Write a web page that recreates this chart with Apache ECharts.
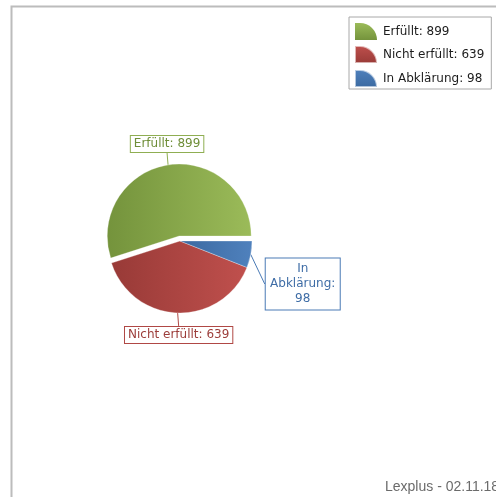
<!DOCTYPE html>
<html>
<head>
<meta charset="utf-8">
<script src="https://cdn.jsdelivr.net/npm/echarts@6/dist/echarts.min.js"></script>
<style>html,body{margin:0;padding:0;background:#fff}#c{width:496px;height:497px}</style>
</head>
<body>
<div id="c"></div>
<script>
const categories = ['Erfüllt', 'Nicht erfüllt', 'In Abklärung'];
const values = [899, 639, 98];
const footerText = 'Lexplus - 02.11.18';

const sliceDark  = ['#74933c', '#983a37', '#3b69a0'];
const sliceLight = ['#9bbb59', '#c0504d', '#4f81bd'];
const labelText  = ['#6f8e39', '#9c3d3a', '#3f6da6'];
const labelBorder= ['#8fae52', '#b04845', '#4a7ab5'];

const FONT = 'DejaVu Sans';
const CX = 180, CY = 241, R = 72, EXPLODE = 5;
const EXPLODED = 0; // index of exploded slice

function grad(i) {
  return new echarts.graphic.LinearGradient(0, 0, 1, 0, [
    { offset: 0, color: sliceDark[i] },
    { offset: 1, color: sliceLight[i] }
  ]);
}
function iconGrad(i) {
  return new echarts.graphic.LinearGradient(0, 0, 0, 1, [
    { offset: 0, color: sliceLight[i] },
    { offset: 1, color: sliceDark[i] }
  ]);
}

// mid-angle of the exploded slice (counter-clockwise from 3 o'clock)
const total = values.reduce((a, b) => a + b, 0);
let before = 0;
for (let i = 0; i < EXPLODED; i++) before += values[i];
const midRad = ((before + values[EXPLODED] / 2) / total) * 2 * Math.PI;
const explodedCenter = [CX + EXPLODE * Math.cos(midRad), CY - EXPLODE * Math.sin(midRad)];

function makeData(showSet) {
  return categories.map((name, i) => {
    const show = showSet(i);
    const item = { name: name, value: values[i] };
    if (!show) {
      item.itemStyle = { color: 'rgba(0,0,0,0)', borderWidth: 0 };
      item.label = { show: false };
      item.labelLine = { show: false };
    } else {
      item.itemStyle = { color: grad(i) };
      item.label = { color: labelText[i], borderColor: labelBorder[i] };
      item.labelLine = { lineStyle: { color: labelBorder[i] } };
      if (i === 2) {
        item.label.formatter = function (p) { return p.name.replace(' ', '\n') + ':\n' + p.value; };
        item.label.width = 68;
        item.label.align = 'center';
        item.label.lineHeight = 15;
        item.label.padding = [3, 3, 3, 3];
      }
    }
    return item;
  });
}

function labelLayout(p) {
  const pts = p.labelLinePoints;
  if (!pts) return {};
  const a = pts[0];
  if (p.dataIndex === 0) {
    return { x: a[0] - 1, y: a[1] - 13, align: 'center', verticalAlign: 'bottom' };
  } else if (p.dataIndex === 1) {
    return { x: a[0] + 1, y: a[1] + 14, align: 'center', verticalAlign: 'top' };
  } else {
    return { x: a[0] + 15 + 37, y: a[1] + 4, align: 'center', verticalAlign: 'top' };
  }
}

const baseSeries = {
  type: 'pie',
  radius: R,
  startAngle: 0,
  clockwise: false,
  avoidLabelOverlap: false,
  silent: true,
  itemStyle: { borderColor: 'rgba(255,255,255,0.6)', borderWidth: 0.5 },
  emphasis: { disabled: true },
  label: {
    show: true,
    position: 'outside',
    formatter: '{b}: {c}',
    fontFamily: FONT,
    fontSize: 12,
    backgroundColor: '#fff',
    borderWidth: 1,
    padding: [2, 3, 2, 3]
  },
  labelLine: { show: true, length: 12, length2: 0, lineStyle: { width: 1 } },
  labelLayout: labelLayout
};

const chart = echarts.init(document.getElementById('c'), null, { renderer: 'canvas' });
chart.setOption({
  animation: false,
  backgroundColor: '#fff',
  graphic: [
    { type: 'rect', left: 9, top: 4, shape: { width: 600, height: 600 }, style: { fill: 'none', stroke: '#bcbcbc', lineWidth: 2 }, silent: true },
    { type: 'text', left: 385, top: 480, style: { text: footerText, font: '14px "Liberation Sans"', fill: '#6b6b6b' }, silent: true }
  ],
  legend: {
    orient: 'vertical',
    left: 349,
    top: 17,
    padding: [6, 7, 1, 5],
    itemGap: 5,
    itemWidth: 22,
    itemHeight: 17,
    borderColor: '#a8a8a8',
    borderWidth: 1,
    backgroundColor: '#fff',
    icon: 'path://M0,0 L5,0 A17,17 0 0 1 22,17 L0,17 Z',
    textStyle: { fontFamily: FONT, fontSize: 12, color: '#1c1c1c', padding: [0, 0, 0, 1] },
    formatter: function (name) {
      const i = categories.indexOf(name);
      return name + ': ' + values[i];
    },
    selectedMode: false,
    data: categories.map((name, i) => ({ name: name, itemStyle: { color: iconGrad(i) } }))
  },
  series: [
    Object.assign({}, baseSeries, {
      name: 'rest',
      center: [CX, CY],
      data: makeData(i => i !== EXPLODED)
    }),
    Object.assign({}, baseSeries, {
      name: 'exploded',
      center: explodedCenter,
      data: makeData(i => i === EXPLODED)
    })
  ]
});
</script>
</body>
</html>
